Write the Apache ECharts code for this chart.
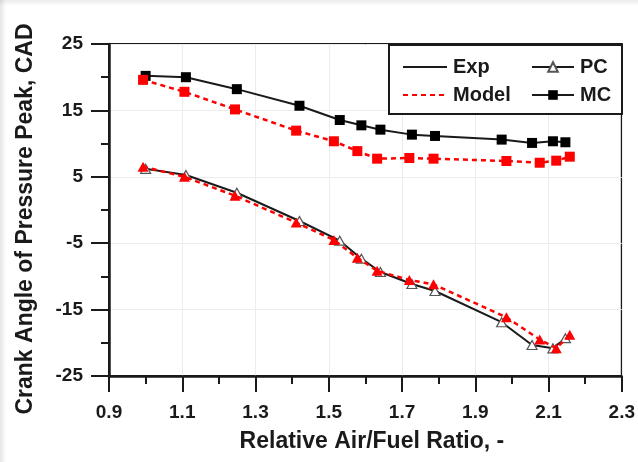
<!DOCTYPE html>
<html>
<head>
<meta charset="utf-8">
<title>Crank angle of pressure peak vs relative air/fuel ratio</title>
<script src="https://cdn.jsdelivr.net/npm/echarts@6/dist/echarts.min.js"></script>
<style>
  html, body { margin: 0; padding: 0; background: #fff; }
  #wrap { position: relative; width: 638px; height: 462px; }
  #chart { width: 638px; height: 462px; }
  .edge-l { position: absolute; left: 0; top: 0; width: 6px; height: 462px;
            background: linear-gradient(to right, rgba(0,0,0,0.10), rgba(0,0,0,0)); pointer-events: none; }
  .edge-t { position: absolute; left: 0; top: 0; width: 638px; height: 6px;
            background: linear-gradient(to bottom, rgba(0,0,0,0.08), rgba(0,0,0,0)); pointer-events: none; }
</style>
</head>
<body>
<div id="wrap">
  <div id="chart"></div>
  <div class="edge-l"></div>
  <div class="edge-t"></div>
</div>
<script>
// Relative air/fuel ratio (lambda) of each operating point
const expLambda   = [1.000, 1.110, 1.249, 1.420, 1.530, 1.589, 1.641, 1.727, 1.790, 1.972, 2.055, 2.112, 2.146];
const modelLambda = [0.993, 1.106, 1.244, 1.411, 1.514, 1.578, 1.632, 1.720, 1.786, 1.985, 2.076, 2.121, 2.158];

// Crank angle of pressure peak, CAD
const mcExp   = [20.2, 20.0, 18.2, 15.7, 13.55, 12.75, 12.1, 11.35, 11.15, 10.6, 10.1, 10.35, 10.2];
const mcModel = [19.6, 17.8, 15.15, 11.95, 10.35, 8.87, 7.73, 7.83, 7.73, 7.38, 7.12, 7.43, 8.03];
const pcExp   = [6.2, 5.27, 2.6, -1.66, -4.62, -7.33, -9.34, -11.14, -12.2, -16.9, -20.33, -20.83, -19.3];
const pcModel = [6.52, 5.0, 2.15, -1.9, -4.5, -7.2, -9.16, -10.54, -11.2, -16.16, -19.5, -20.83, -18.8];

// Axis ranges and tick spacing
const xRange = { min: 0.9, max: 2.3, step: 0.2 };
const yRange = { min: -25, max: 25, step: 10 };

const FONT = 'Arial, "Liberation Sans", Helvetica, sans-serif';
const INK = '#1a1a1a';
const RED = '#ff0000';

const pairs = (xs, ys) => xs.map((x, i) => [x, ys[i]]);

const chart = echarts.init(document.getElementById('chart'), null, { renderer: 'canvas' });

const expLine = { color: INK, width: 2 };
const modelLine = { color: RED, width: 2.5, type: [5, 4] };

const legendText = { fontFamily: FONT, fontSize: 20, fontWeight: 'bold', color: INK, padding: [0, 0, 0, 1] };

chart.setOption({
  animation: false,
  backgroundColor: '#fff',
  grid: {
    left: 109, right: 16, top: 44, bottom: 86,
    show: true, borderColor: INK, borderWidth: 2, backgroundColor: 'transparent'
  },
  xAxis: {
    type: 'value',
    min: xRange.min, max: xRange.max, interval: xRange.step,
    name: 'Relative Air/Fuel Ratio, -',
    nameLocation: 'middle',
    nameGap: 54,
    nameTextStyle: { fontFamily: FONT, fontSize: 23, fontWeight: 'bold', color: INK, padding: [0, 0, 0, 13] },
    axisLine: { show: true, onZero: false, lineStyle: { color: INK, width: 2.5 } },
    axisTick: { show: true, inside: false, length: 16, lineStyle: { color: INK, width: 2 } },
    minorTick: { show: true, splitNumber: 2, length: 8, lineStyle: { color: INK, width: 2 } },
    splitLine: { show: true, lineStyle: { color: '#ececec', width: 1 } },
    axisLabel: {
      margin: 27,
      fontFamily: FONT, fontSize: 19, fontWeight: 'bold', color: INK,
      formatter: v => v.toFixed(1)
    }
  },
  yAxis: {
    type: 'value',
    min: yRange.min, max: yRange.max, interval: yRange.step,
    name: 'Crank Angle of Pressure Peak, CAD',
    nameLocation: 'middle',
    nameGap: 72,
    nameTextStyle: { fontFamily: FONT, fontSize: 23, fontWeight: 'bold', color: INK, padding: [0, 18, 0, 0] },
    axisLine: { show: true, onZero: false, lineStyle: { color: INK, width: 2.5 } },
    axisTick: { show: true, inside: false, length: 18, lineStyle: { color: INK, width: 2 } },
    minorTick: { show: true, splitNumber: 2, length: 8, lineStyle: { color: INK, width: 2 } },
    splitLine: { show: true, lineStyle: { color: '#ececec', width: 1 } },
    axisLabel: {
      margin: 26,
      fontFamily: FONT, fontSize: 19, fontWeight: 'bold', color: INK
    }
  },
  graphic: [{
    type: 'rect',
    left: 388, top: 44,
    shape: { width: 233, height: 69 },
    style: { fill: '#fff', stroke: INK, lineWidth: 2 },
    z: 50
  }],
  legend: [{
    data: [
      { name: 'Exp', itemStyle: { opacity: 0 } },
      { name: 'Model', itemStyle: { opacity: 0 } }
    ],
    orient: 'vertical',
    left: 397, top: 52,
    itemWidth: 44, itemHeight: 12, itemGap: 8,
    textStyle: legendText,
    selectedMode: false,
    z: 60
  }, {
    data: ['PC', 'MC'],
    orient: 'vertical',
    left: 526, top: 52,
    itemWidth: 42, itemHeight: 12, itemGap: 8,
    textStyle: legendText,
    selectedMode: false,
    z: 60
  }],
  series: [
    // legend keys for line style
    { name: 'Exp', type: 'line', data: [], symbol: 'none', lineStyle: expLine, itemStyle: { color: INK } },
    { name: 'Model', type: 'line', data: [], symbol: 'none', lineStyle: modelLine, itemStyle: { color: RED } },

    // premixed combustion peak
    {
      name: 'PC', type: 'line', data: pairs(expLambda, pcExp),
      symbol: 'triangle', symbolSize: [10, 9],
      lineStyle: expLine,
      itemStyle: { color: '#fff', borderColor: '#555', borderWidth: 1.2 },
      z: 3
    },
    // main combustion peak
    {
      name: 'MC', type: 'line', data: pairs(expLambda, mcExp),
      symbol: 'rect', symbolSize: 10,
      lineStyle: expLine,
      itemStyle: { color: '#000', borderColor: '#000', borderWidth: 0 },
      z: 3
    },
    // model predictions
    {
      name: 'PC model', type: 'line', data: pairs(modelLambda, pcModel),
      symbol: 'triangle', symbolSize: [11, 10],
      lineStyle: modelLine,
      itemStyle: { color: RED },
      z: 4
    },
    {
      name: 'MC model', type: 'line', data: pairs(modelLambda, mcModel),
      symbol: 'rect', symbolSize: 10,
      lineStyle: modelLine,
      itemStyle: { color: RED },
      z: 4
    }
  ]
});
</script>
</body>
</html>
